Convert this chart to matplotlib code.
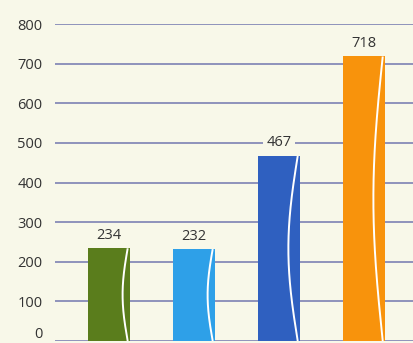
import numpy as np
import matplotlib
matplotlib.use("Agg")
import matplotlib.pyplot as plt
import matplotlib.transforms as mtransforms

values = [234, 232, 467, 718]
colors = ["#5a7d1c", "#2ea0e8", "#2f60c0", "#f8930c"]
yticks = [0, 100, 200, 300, 400, 500, 600, 700, 800]

bg = "#f8f8e9"
plt.rcParams['font.family'] = ['Open Sans', 'DejaVu Sans']

fig = plt.figure(figsize=(4.13, 3.43), dpi=100, facecolor=bg)
ax = fig.add_axes([55/413, 2/343, 358/413, 317/343], facecolor=bg)

x = np.arange(len(values))
bw = 0.5
ax.bar(x, values, width=bw, color=colors, zorder=3)

# decorative white wavy line near the right edge of each bar
for xi, v in zip(x, values):
    t = np.linspace(0, 1, 200)
    amp = 0.12 if v < 300 else 0.22
    xs = xi + bw * (0.44 - amp * np.sin(np.pi * t))
    ys = t * v
    ax.plot(xs, ys, color="white", lw=1.4, zorder=4, solid_capstyle="butt")
    ax.annotate(str(v), (xi, v), xytext=(0, 4), textcoords="offset points",
                ha="center", va="bottom", fontsize=10.5, color="#333333",
                zorder=5,
                bbox=dict(boxstyle="square,pad=0.25", fc=bg, ec="none"))

ax.set_ylim(0, 800)
ax.set_xlim(-0.635, 3.576)
ax.set_yticks(yticks)
ax.set_yticklabels([str(t) for t in yticks])
ax.set_xticks([])
ax.tick_params(axis="y", length=0, pad=9, labelsize=10.5, labelcolor="#333333")
ax.grid(axis="y", color="#7d82b4", lw=1.2, zorder=1)
for s in ax.spines.values():
    s.set_visible(False)

# lift the "0" label a little so it stays inside the figure
zero_lbl = ax.get_yticklabels()[0]
zero_lbl.set_transform(zero_lbl.get_transform() +
                       mtransforms.ScaledTranslation(0, 8/100, fig.dpi_scale_trans))

fig.savefig("out.png", dpi=100, facecolor=bg)
